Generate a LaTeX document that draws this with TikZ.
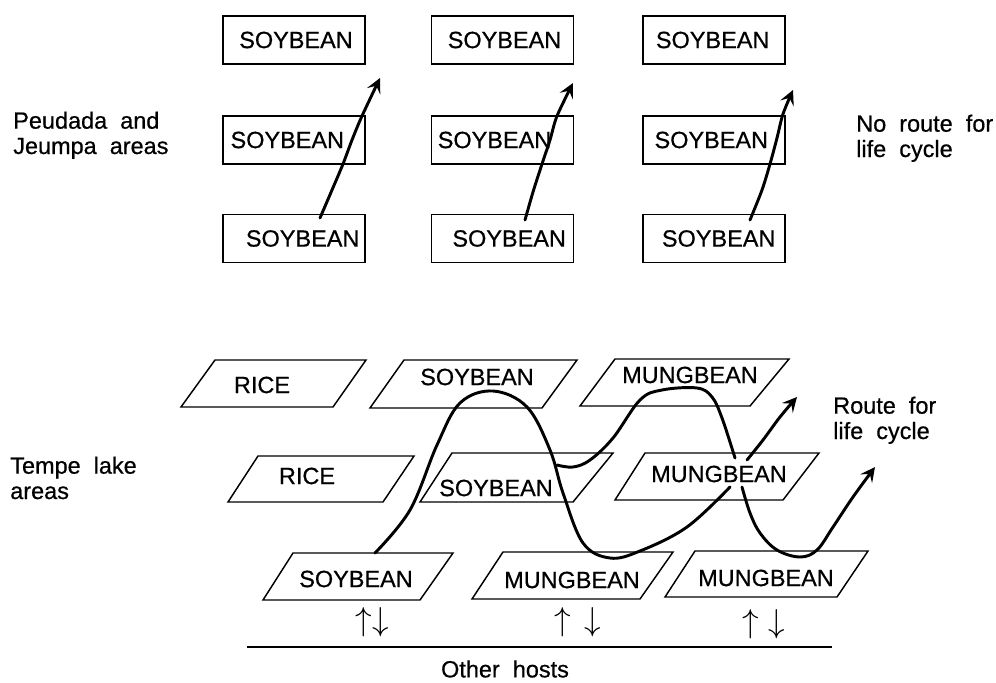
\documentclass[tikz,border=0pt]{standalone}
\usepackage{fontspec}
\setmainfont{Liberation Sans}[WordSpace=2.0, FakeBold=0.6]
\usetikzlibrary{arrows.meta}
\begin{document}
\begin{tikzpicture}[x=0.75pt,y=-0.75pt,
  lbl/.style={font=\fontsize{17.6}{19}\selectfont, inner sep=0pt},
  sbox/.style={draw, line width=1.1pt, minimum width=106.5pt, minimum height=36pt, inner sep=0pt},
  par/.style={draw, line width=1.1pt, line join=miter},
  route/.style={line width=2.2pt, line cap=round, line join=round},
  tipped/.style={route, -{Stealth[length=11pt,width=11pt,inset=4.5pt]}},
  updown/.style={font=\fontsize{24}{24}\selectfont, inner sep=0pt},
]
\useasboundingbox (0,0) rectangle (996,682);

% ---------- top: Peudada and Jeumpa ----------
\node[sbox, label={[lbl,xshift=1.5pt]center:SOYBEAN}] (a1) at (294,40) {};
\node[sbox, label={[lbl,xshift=-5pt]center:SOYBEAN}] (a2) at (294,140) {};
\node[sbox, label={[lbl,xshift=6.5pt]center:SOYBEAN}] (a3) at (294,238.5) {};
\node[sbox, label={[lbl,xshift=1.5pt]center:SOYBEAN}] (b1) at (502.5,40) {};
\node[sbox, label={[lbl,xshift=-6pt]center:SOYBEAN}] (b2) at (502.5,140) {};
\node[sbox, label={[lbl,xshift=5pt]center:SOYBEAN}] (b3) at (502.5,238.5) {};
\node[sbox, label={[lbl,xshift=-1pt]center:SOYBEAN}] (c1) at (714,40) {};
\node[sbox, label={[lbl,xshift=-2pt]center:SOYBEAN}] (c2) at (714,140) {};
\node[sbox, label={[lbl,xshift=3.5pt]center:SOYBEAN}] (c3) at (714,238.5) {};

\coordinate (ta1) at (320,218); \coordinate (te1) at (380,78);
\coordinate (ta2) at (525,220); \coordinate (te2) at (573,83);
\coordinate (ta3) at (750,220); \coordinate (te3) at (793,90);
\draw[tipped] plot[smooth] coordinates {(ta1) (332,190) (343,164) (352,140) (362,116) (te1)};
\draw[tipped] plot[smooth] coordinates {(ta2) (533,192) (542,164) (550,140) (557,116) (te2)};
\draw[tipped] plot[smooth] coordinates {(ta3) (762,190) (770,164) (777,138) (783,114) (te3)};

\node[lbl, anchor=base west, align=left] (peu) at (13,154) {Peudada and\\Jeumpa areas};
\node[lbl, anchor=base west, align=left] (noroute) at (856,157) {No route for\\life cycle};

% ---------- bottom: Tempe lake ----------
% row 1
\draw[par] (215,360) -- (366,360) -- (333,407) -- (181,407) -- cycle;
\node[lbl] (rice1) at (262,385) {RICE};
\draw[par] (404,360) -- (577,360) -- (542,408) -- (370,408) -- cycle;
\node[lbl] (soy1) at (477,377) {SOYBEAN};
\draw[par] (615,359) -- (789,359) -- (750,406) -- (580,406) -- cycle;
\node[lbl] (mung1) at (690,375) {MUNGBEAN};
% row 2
\draw[par] (258,456) -- (414,456) -- (383,502) -- (228,502) -- cycle;
\node[lbl] (rice2) at (307,476) {RICE};
\draw[par] (452,453) -- (613,453) -- (573,502) -- (420,502) -- cycle;
\node[lbl] (soy2) at (496,488) {SOYBEAN};
\draw[par] (645,453) -- (819,453) -- (783,500) -- (615,500) -- cycle;
\node[lbl] (mung2) at (719,474) {MUNGBEAN};
% row 3
\draw[par] (293,553) -- (453,553) -- (420,600) -- (263,600) -- cycle;
\node[lbl] (soy3) at (356,579) {SOYBEAN};
\draw[par] (503,552) -- (673,552) -- (640,599) -- (472,599) -- cycle;
\node[lbl] (mung3) at (572,580) {MUNGBEAN};
\draw[par] (695,551) -- (868,551) -- (837,597) -- (665,597) -- cycle;
\node[lbl] (mung4) at (766,578) {MUNGBEAN};

% routes
\coordinate (r1s) at (375,553); \coordinate (r1e) at (730,487);
\coordinate (r2s) at (557,465); \coordinate (r2e) at (735,458);
\coordinate (r3s) at (747,460); \coordinate (r3e) at (797,397);
\coordinate (r4s) at (742,487); \coordinate (r4e) at (875,467);
\draw[route] plot[smooth, tension=0.6] coordinates {(r1s) (410,510) (437,445) (460,403) (493,391) (527,407) (550,450) (563,493) (583,543) (610,558) (640,551) (687,527) (r1e)};
\draw[route] plot[smooth, tension=0.6] coordinates {(r2s) (573,467) (590,460) (613,438) (640,400) (662,390) (697,388) (712,397) (722,418) (r2e)};
\draw[tipped] plot[smooth, tension=0.6] coordinates {(r3s) (763,440) (780,417) (r3e)};
\draw[tipped] plot[smooth, tension=0.6] coordinates {(r4s) (750,513) (760,533) (777,550) (800,557) (817,550) (833,527) (853,497) (r4e)};

\node[lbl, anchor=base west, align=left] (tempe) at (10,499) {Tempe lake\\areas};
\node[lbl, anchor=base west, align=left] (route) at (833,439) {Route for\\life cycle};

% other hosts
\node[updown] (ud1) at (372,622) {$\uparrow\downarrow$};
\node[updown] (ud2) at (578,622) {$\uparrow\mkern7mu\downarrow$};
\node[updown] (ud3) at (764,624) {$\uparrow\mkern5mu\downarrow$};
\coordinate (hl) at (247,647); \coordinate (hr) at (832,647);
\draw[line width=1.5pt] (hl) -- (hr);
\node[lbl] (oth) at (505,669) {Other hosts};
\end{tikzpicture}
\end{document}
